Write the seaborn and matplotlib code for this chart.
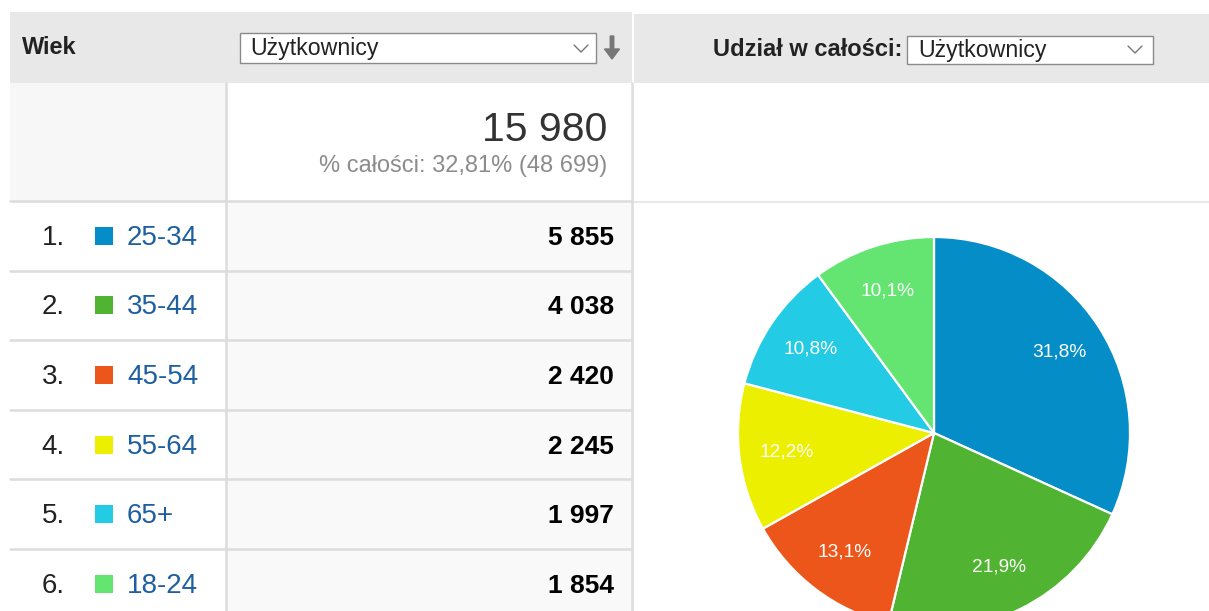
import matplotlib
matplotlib.use("Agg")
import matplotlib.pyplot as plt
import seaborn as sns
from matplotlib.patches import Rectangle

# data
age_groups = ["25-34", "35-44", "45-54", "55-64", "65+", "18-24"]
users = [5855, 4038, 2420, 2245, 1997, 1854]
slice_colors = ["#058dc7", "#50b432", "#ed561b", "#edef00", "#24cbe5", "#64e572"]
total_users = "15 980"
total_note = "% całości: 32,81% (48 699)"
dim_title = "Wiek"
metric_name = "Użytkownicy"
share_title = "Udział w całości:"

sns.set_theme(style="white")
plt.rcParams["font.family"] = ["Liberation Sans", "DejaVu Sans"]

W, H = 1209, 611
fig = plt.figure(figsize=(W / 100, H / 100), dpi=100)
fig.patch.set_facecolor("white")

ax = fig.add_axes([0, 0, 1, 1])
ax.set_xlim(0, W)
ax.set_ylim(H, 0)
ax.axis("off")

line_c = "#dcdcdc"
head_c = "#e8e8e8"

# header band
ax.add_patch(Rectangle((10, 12), 622, 71, color=head_c, lw=0))
ax.add_patch(Rectangle((634, 14), W - 634, 69, color=head_c, lw=0))

# summary row
ax.add_patch(Rectangle((10, 83), 216, 117, color="#f7f7f7", lw=0))

row_top = 201
row_h = 69.6
n = len(users)
for i in range(n):
    y0 = row_top + i * row_h
    ax.add_patch(Rectangle((226, y0), 406, row_h, color="#f9f9f9", lw=0))

# grid lines
ax.plot([226, 226], [83, H], color=line_c, lw=1.8)
ax.plot([632, 632], [83, H], color=line_c, lw=1.8)
ax.plot([634, W], [202, 202], color="#e8e8e8", lw=1.5)
for i in range(n + 1):
    y = row_top + i * row_h
    ax.plot([10, 632], [y, y], color=line_c, lw=1.8)

# header texts
ax.text(22, 48, dim_title, fontsize=17, fontweight="bold", color="#222222",
        va="center", ha="left")
ax.add_patch(Rectangle((240, 33), 356, 30, facecolor="white", edgecolor="#8a8a8a", lw=1))
ax.text(250, 48, metric_name, fontsize=16.7, color="#222222", va="center", ha="left")
ax.plot([574, 581, 588], [45, 52, 45], color="#777777", lw=1)
ax.arrow(612, 36, 0, 13, width=3.5, head_width=15, head_length=10,
         color="#777777", length_includes_head=False)

ax.text(902, 50, share_title, fontsize=17, fontweight="bold", color="#222222",
        va="center", ha="right")
ax.add_patch(Rectangle((907, 36), 246, 28, facecolor="white", edgecolor="#8a8a8a", lw=1))
ax.text(918, 50, metric_name, fontsize=16.7, color="#222222", va="center", ha="left")
ax.plot([1128, 1135, 1142], [46, 53, 46], color="#777777", lw=1)

# totals
ax.text(607, 130, total_users, fontsize=29.5, color="#333333", va="center", ha="right")
ax.text(607, 166, total_note, fontsize=17, color="#8c8c8c", va="center", ha="right")

# table rows
for i, (grp, val) in enumerate(zip(age_groups, users)):
    yc = row_top + (i + 0.5) * row_h + 2
    ax.text(65, yc, f"{i + 1}.", fontsize=20, color="#222222", va="center", ha="right")
    ax.add_patch(Rectangle((95, yc - 11), 18, 18, color=slice_colors[i], lw=0))
    ax.text(127, yc, grp, fontsize=20, color="#1e5f9f", va="center", ha="left")
    ax.text(614, yc, f"{val:,}".replace(",", " "), fontsize=19, fontweight="bold",
            color="#000000", va="center", ha="right")

# pie chart
cx, cy, r = 934, 433, 196
pax = fig.add_axes([(cx - r) / W, (H - cy - r) / H, 2 * r / W, 2 * r / H])
pax.pie(users, colors=slice_colors, startangle=90, counterclock=False,
        autopct=lambda p: f"{p:.1f}%".replace(".", ","), pctdistance=0.76,
        wedgeprops=dict(edgecolor="white", linewidth=1.6),
        textprops=dict(color="white", fontsize=13.8))
pax.set_xlim(-1, 1)
pax.set_ylim(-1, 1)
pax.set_aspect("equal")
pax.axis("off")

fig.savefig("out.png", dpi=100)
